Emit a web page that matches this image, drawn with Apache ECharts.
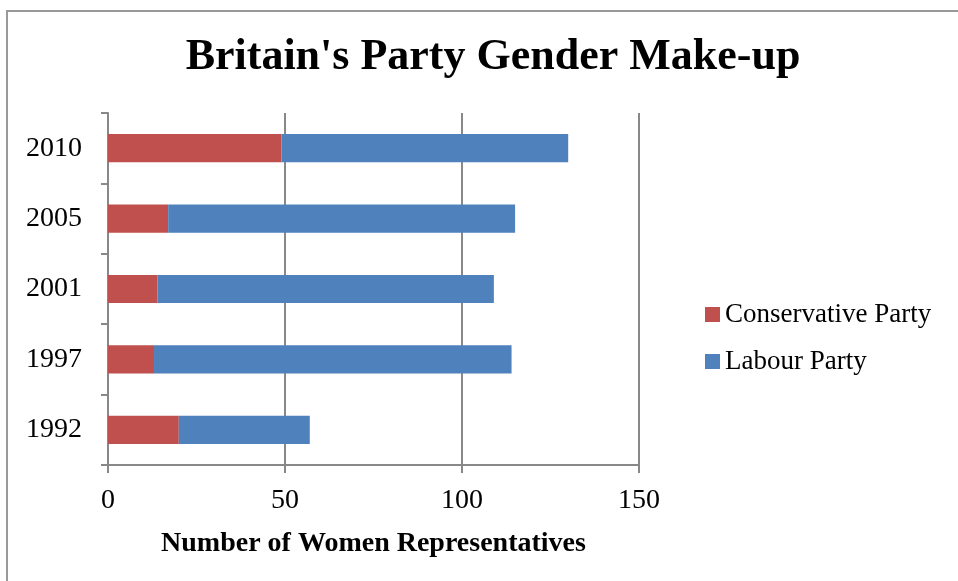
<!DOCTYPE html>
<html><head><meta charset="utf-8">
<script src="https://cdn.jsdelivr.net/npm/echarts@6/dist/echarts.min.js"></script>
<style>html,body{margin:0;padding:0;background:#fff}#c{width:958px;height:581px}</style>
</head><body><div id="c"></div>
<script>
const categories = ['1992', '1997', '2001', '2005', '2010'];
const conservative = [20, 13, 14, 17, 49];
const labour = [37, 101, 95, 98, 81];
const xTicks = [0, 50, 100, 150];

const chart = echarts.init(document.getElementById('c'));
const serif = '"Liberation Serif", "DejaVu Serif", serif';
chart.setOption({
  animation: false,
  backgroundColor: '#fff',
  title: {
    text: "Britain's Party Gender Make-up",
    left: 488, top: 31, textAlign: 'center',
    textStyle: { fontFamily: serif, fontWeight: 'bold', fontSize: 44, color: '#000' }
  },
  graphic: [{
    type: 'polyline', silent: true,
    shape: { points: [[7, 600], [7, 11], [970, 11]] },
    style: { stroke: '#999', lineWidth: 2, fill: null }
  }],
  legend: {
    orient: 'vertical', left: 700, top: 296, itemWidth: 15, itemHeight: 15, itemGap: 20,
    icon: 'rect',
    textStyle: { fontFamily: serif, fontSize: 27, color: '#000' },
    data: ['Conservative Party', 'Labour Party']
  },
  grid: { left: 108, right: 319, top: 113, bottom: 116, containLabel: false },
  xAxis: {
    type: 'value', min: 0, max: 150, interval: 50,
    name: 'Number of Women Representatives', nameLocation: 'middle', nameGap: 65,
    nameTextStyle: { fontFamily: serif, fontWeight: 'bold', fontSize: 28, color: '#000' },
    axisLine: { show: true, lineStyle: { color: '#888', width: 2 } },
    axisTick: { show: true, length: 8, lineStyle: { color: '#888', width: 2 } },
    axisLabel: { fontFamily: serif, fontSize: 28, color: '#000', margin: 22,
      formatter: v => xTicks.includes(v) ? String(v) : '' },
    splitLine: { show: true, lineStyle: { color: '#888', width: 2 } }
  },
  yAxis: {
    type: 'category', data: categories,
    axisLine: { show: true, lineStyle: { color: '#888', width: 2 } },
    axisTick: { show: true, length: 7, lineStyle: { color: '#888', width: 2 } },
    axisLabel: { fontFamily: serif, fontSize: 28, color: '#000', margin: 26 }
  },
  series: [
    { name: 'Conservative Party', type: 'bar', stack: 'a', data: conservative,
      barWidth: '40%', itemStyle: { color: '#C0504D' } },
    { name: 'Labour Party', type: 'bar', stack: 'a', data: labour,
      barWidth: '40%', itemStyle: { color: '#4F81BD' } }
  ]
});
</script></body></html>
